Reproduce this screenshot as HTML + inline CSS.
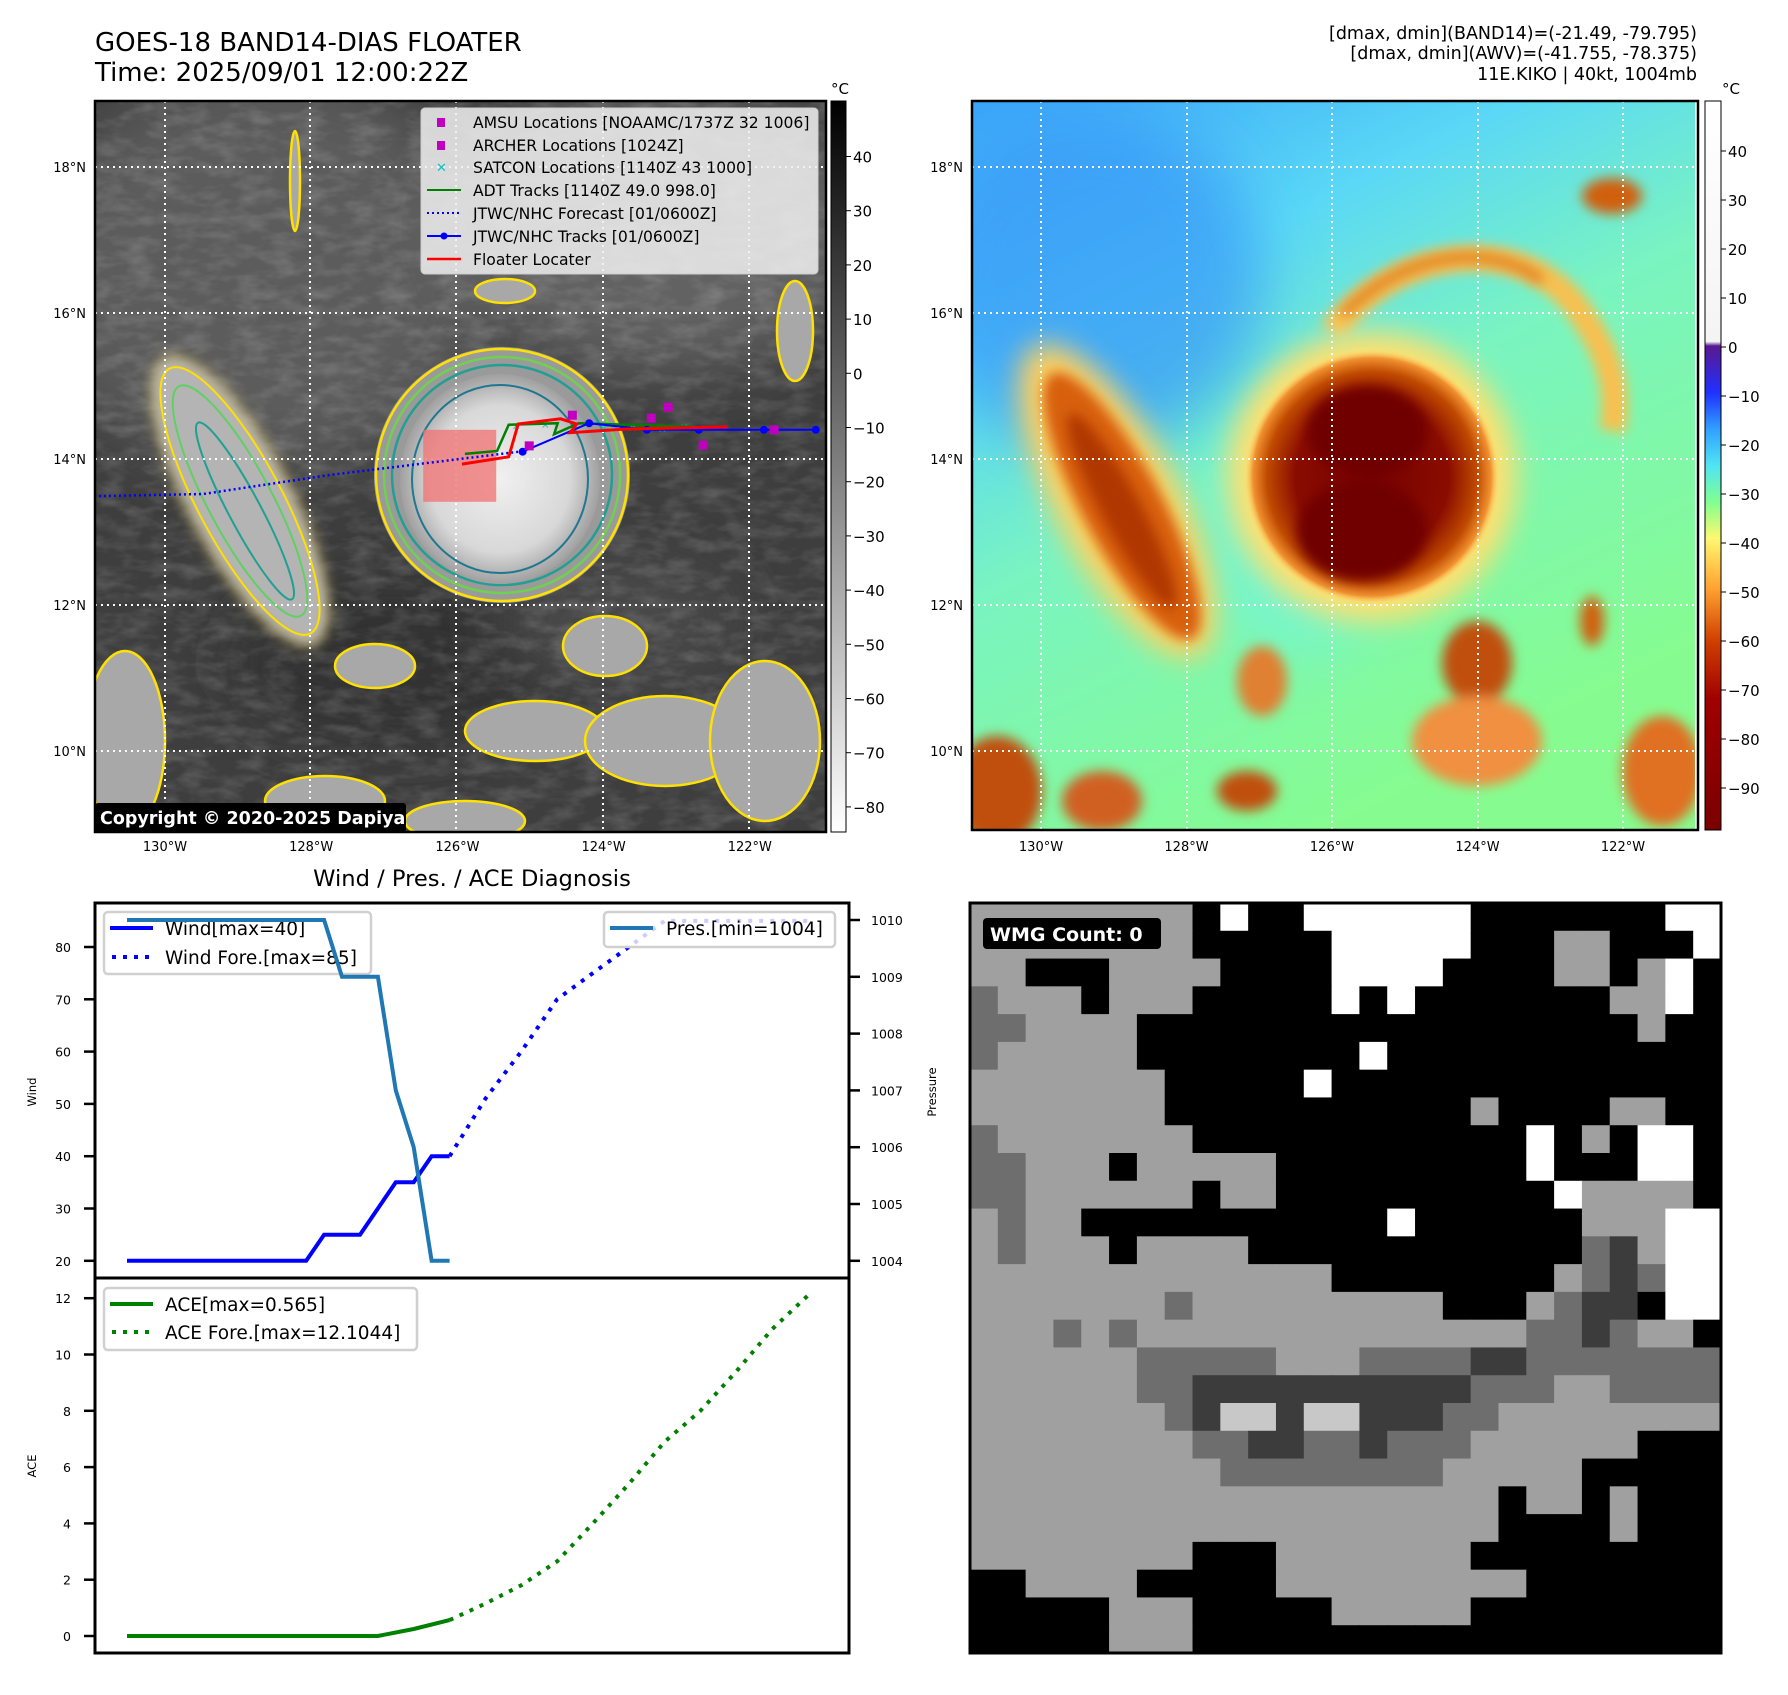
<!DOCTYPE html>
<html><head><meta charset="utf-8"><style>
html,body{margin:0;padding:0;background:#fff;}
svg text{font-family:"DejaVu Sans","Liberation Sans",sans-serif;}
</style></head><body>
<svg id="fig" xmlns="http://www.w3.org/2000/svg" width="1788" height="1690" viewBox="0 0 1788 1690">
<defs>
<filter id="b6" x="-50%" y="-50%" width="200%" height="200%"><feGaussianBlur stdDeviation="6"/></filter>
<filter id="b14" x="-50%" y="-50%" width="200%" height="200%"><feGaussianBlur stdDeviation="14"/></filter>
<filter id="b30" x="-50%" y="-50%" width="200%" height="200%"><feGaussianBlur stdDeviation="30"/></filter>
<filter id="tex" x="0" y="0" width="100%" height="100%"><feTurbulence type="fractalNoise" baseFrequency="0.035 0.08" numOctaves="3" seed="4"/><feColorMatrix type="matrix" values="0 0 0 0 1  0 0 0 0 1  0 0 0 0 1  0 0 0 0.9 -0.35"/></filter>
<linearGradient id="cb1" x1="0" y1="0" x2="0" y2="1"><stop offset="0" stop-color="#000"/><stop offset="1" stop-color="#fff"/></linearGradient>
<linearGradient id="cb2" x1="0" y1="0" x2="0" y2="1">
<stop offset="0" stop-color="#ffffff"/><stop offset="0.33" stop-color="#f4f4f4"/><stop offset="0.336" stop-color="#5a1890"/>
<stop offset="0.40" stop-color="#2030ff"/><stop offset="0.45" stop-color="#30a0ff"/><stop offset="0.50" stop-color="#50e4f4"/>
<stop offset="0.55" stop-color="#80ff90"/><stop offset="0.60" stop-color="#fff870"/><stop offset="0.67" stop-color="#ffa030"/>
<stop offset="0.74" stop-color="#d04000"/><stop offset="0.82" stop-color="#a00000"/><stop offset="1" stop-color="#7a0000"/></linearGradient>
<linearGradient id="m2bg" x1="0" y1="0" x2="0.5" y2="1">
<stop offset="0" stop-color="#3aa4f8"/><stop offset="0.3" stop-color="#5ad8f6"/><stop offset="0.55" stop-color="#7af4c0"/><stop offset="1" stop-color="#86fc90"/></linearGradient>
<radialGradient id="storm1"><stop offset="0" stop-color="#f0f0f0"/><stop offset="0.7" stop-color="#d8d8d8"/><stop offset="1" stop-color="#a0a0a0"/></radialGradient>
<radialGradient id="storm2"><stop offset="0" stop-color="#780000"/><stop offset="0.6" stop-color="#8a0c00"/><stop offset="0.82" stop-color="#c04a00"/><stop offset="0.93" stop-color="#f09030"/><stop offset="1" stop-color="#ffe070" stop-opacity="0"/></radialGradient>
<clipPath id="c1"><rect x="0" y="0" width="731" height="731"/></clipPath>
<clipPath id="c2"><rect x="0" y="0" width="723" height="729"/></clipPath>
</defs>

<text x="95" y="51" font-size="26">GOES-18 BAND14-DIAS FLOATER</text>
<text x="95" y="81" font-size="26">Time: 2025/09/01 12:00:22Z</text>
<g font-size="17.5" text-anchor="end">
<text x="1697" y="39">[dmax, dmin](BAND14)=(-21.49, -79.795)</text>
<text x="1697" y="59">[dmax, dmin](AWV)=(-41.755, -78.375)</text>
<text x="1697" y="80">11E.KIKO | 40kt, 1004mb</text>
</g>

<!-- MAP 1 -->
<g transform="translate(95,101)">
<g clip-path="url(#c1)">
<rect width="731" height="731" fill="#3e3e3e"/>
<ellipse cx="170" cy="170" rx="230" ry="200" fill="#5c5c5c" filter="url(#b30)"/>
<ellipse cx="560" cy="130" rx="220" ry="140" fill="#626262" filter="url(#b30)"/>
<ellipse cx="300" cy="560" rx="160" ry="80" fill="#333" filter="url(#b30)"/>
<ellipse cx="520" cy="520" rx="120" ry="60" fill="#4a4a4a" filter="url(#b30)"/>
<rect width="731" height="731" filter="url(#tex)" opacity="0.35"/>
<ellipse cx="145" cy="400" rx="50" ry="160" transform="rotate(-28 145 400)" fill="#b4b4b4" stroke="#ffe000" stroke-width="2.5" filter="url(#b6)"/>
<ellipse cx="145" cy="400" rx="42" ry="150" transform="rotate(-28 145 400)" fill="none" stroke="#ffe000" stroke-width="2"/>
<ellipse cx="145" cy="400" rx="32" ry="130" transform="rotate(-28 145 400)" fill="none" stroke="#60d060" stroke-width="2"/>
<ellipse cx="150" cy="410" rx="16" ry="100" transform="rotate(-28 150 410)" fill="none" stroke="#20a090" stroke-width="2"/>
<circle cx="407" cy="374" r="128" fill="#9a9a9a"/>
<circle cx="407" cy="374" r="126" fill="none" stroke="#ffe000" stroke-width="2.5"/>
<circle cx="407" cy="374" r="118" fill="none" stroke="#70d050" stroke-width="2.5"/>
<circle cx="407" cy="374" r="110" fill="none" stroke="#20a090" stroke-width="2.5"/>
<ellipse cx="405" cy="378" rx="100" ry="105" fill="url(#storm1)"/>
<ellipse cx="405" cy="378" rx="88" ry="94" fill="none" stroke="#207890" stroke-width="2"/>
<g fill="#a8a8a8" stroke="#ffe000" stroke-width="2.5">
<ellipse cx="510" cy="545" rx="42" ry="30"/>
<ellipse cx="440" cy="630" rx="70" ry="30"/>
<ellipse cx="570" cy="640" rx="80" ry="45"/>
<ellipse cx="670" cy="640" rx="55" ry="80"/>
<ellipse cx="30" cy="640" rx="40" ry="90"/>
<ellipse cx="280" cy="565" rx="40" ry="22"/>
<ellipse cx="230" cy="700" rx="60" ry="25"/>
<ellipse cx="370" cy="720" rx="60" ry="20"/>
<ellipse cx="700" cy="230" rx="18" ry="50"/>
<ellipse cx="200" cy="80" rx="5" ry="50"/>
<ellipse cx="410" cy="190" rx="30" ry="12"/>
</g>
<g stroke="#fff" stroke-width="2" stroke-dasharray="2,4">
<line x1="70" y1="0" x2="70" y2="731"/><line x1="215" y1="0" x2="215" y2="731"/><line x1="361" y1="0" x2="361" y2="731"/><line x1="508" y1="0" x2="508" y2="731"/><line x1="654" y1="0" x2="654" y2="731"/>
<line x1="0" y1="66" x2="731" y2="66"/><line x1="0" y1="212" x2="731" y2="212"/><line x1="0" y1="358" x2="731" y2="358"/><line x1="0" y1="504" x2="731" y2="504"/><line x1="0" y1="650" x2="731" y2="650"/>
</g>
<g id="tracks"></g>
<rect x="0" y="702" width="311" height="29" rx="3" fill="#000"/>
<text x="5" y="723" font-size="17.5" font-weight="bold" fill="#fff">Copyright © 2020-2025 Dapiya</text>
</g>
<rect x="0" y="0" width="731" height="731" fill="none" stroke="#000" stroke-width="2.5"/>
<g>
<rect x="326" y="7" width="397" height="166" rx="4" fill="#f0f0f0" fill-opacity="0.85" stroke="#ccc"/>
<g font-size="15.6">
<rect x="342" y="17" width="8" height="9" fill="#c000c0"/><text x="378" y="27">AMSU Locations [NOAAMC/1737Z 32 1006]</text>
<rect x="342" y="40" width="8" height="9" fill="#c000c0"/><text x="378" y="50">ARCHER Locations [1024Z]</text>
<text x="341" y="71" fill="#10c0c0" font-size="13" font-weight="bold">✕</text><text x="378" y="72">SATCON Locations [1140Z 43 1000]</text>
<line x1="332" y1="89" x2="366" y2="89" stroke="#008000" stroke-width="2"/><text x="378" y="95">ADT Tracks [1140Z 49.0 998.0]</text>
<line x1="332" y1="112" x2="366" y2="112" stroke="#0000ff" stroke-width="2" stroke-dasharray="2,3"/><text x="378" y="118">JTWC/NHC Forecast [01/0600Z]</text>
<line x1="332" y1="135" x2="366" y2="135" stroke="#0000ff" stroke-width="2"/><circle cx="349" cy="135" r="3.5" fill="#0000ff"/><text x="378" y="141">JTWC/NHC Tracks [01/0600Z]</text>
<line x1="332" y1="158" x2="366" y2="158" stroke="#ff0000" stroke-width="2.5"/><text x="378" y="164">Floater Locater</text>
</g></g>
</g>
<g>
<rect x="831" y="101" width="15" height="731" fill="url(#cb1)" stroke="#000" stroke-width="1"/>
<text x="840" y="94" font-size="15" text-anchor="middle">°C</text>
<g id="cb1ticks" font-size="15"></g>
</g>

<!-- MAP 2 -->
<g transform="translate(972,101)">
<g clip-path="url(#c2)">
<rect width="726" height="729" fill="url(#m2bg)"/>
<ellipse cx="120" cy="180" rx="170" ry="170" fill="#3898f8" filter="url(#b30)" opacity="0.7"/>
<ellipse cx="330" cy="430" rx="90" ry="120" fill="#70f4e8" filter="url(#b30)" opacity="0.6"/>
<path d="M360,230 C420,150 540,130 600,200 C630,240 650,280 640,330" fill="none" stroke="#f8c050" stroke-width="26" filter="url(#b6)"/>
<path d="M370,215 C430,150 520,140 570,180" fill="none" stroke="#e08020" stroke-width="10" filter="url(#b6)"/>
<ellipse cx="145" cy="400" rx="62" ry="175" transform="rotate(-28 145 400)" fill="#ffd060" filter="url(#b14)"/>
<ellipse cx="150" cy="405" rx="40" ry="150" transform="rotate(-28 150 405)" fill="#d86010" filter="url(#b6)"/>
<ellipse cx="150" cy="410" rx="20" ry="110" transform="rotate(-28 150 410)" fill="#b03800" filter="url(#b6)"/>
<circle cx="400" cy="376" r="145" fill="#ffe070" filter="url(#b14)"/>
<circle cx="400" cy="376" r="128" fill="url(#storm2)"/>
<ellipse cx="395" cy="330" rx="60" ry="45" fill="#700000" filter="url(#b6)"/>
<ellipse cx="390" cy="430" rx="65" ry="50" fill="#700000" filter="url(#b6)"/>
<g filter="url(#b6)">
<ellipse cx="505" cy="562" rx="35" ry="42" fill="#c05010"/>
<ellipse cx="505" cy="640" rx="65" ry="45" fill="#f09040"/>
<ellipse cx="25" cy="690" rx="45" ry="55" fill="#c05010"/>
<ellipse cx="130" cy="700" rx="40" ry="30" fill="#d06020"/>
<ellipse cx="275" cy="690" rx="30" ry="20" fill="#c05010"/>
<ellipse cx="690" cy="670" rx="40" ry="55" fill="#e07020"/>
<ellipse cx="640" cy="95" rx="30" ry="18" fill="#d06010"/>
<ellipse cx="290" cy="580" rx="25" ry="35" fill="#e08030"/>
<ellipse cx="620" cy="520" rx="12" ry="25" fill="#d06010"/>
</g>
<g stroke="#fff" stroke-width="2" stroke-dasharray="2,4">
<line x1="69" y1="0" x2="69" y2="729"/><line x1="215" y1="0" x2="215" y2="729"/><line x1="360" y1="0" x2="360" y2="729"/><line x1="506" y1="0" x2="506" y2="729"/><line x1="651" y1="0" x2="651" y2="729"/>
<line x1="0" y1="66" x2="726" y2="66"/><line x1="0" y1="212" x2="726" y2="212"/><line x1="0" y1="358" x2="726" y2="358"/><line x1="0" y1="504" x2="726" y2="504"/><line x1="0" y1="650" x2="726" y2="650"/>
</g>
</g>
<rect x="0" y="0" width="726" height="729" fill="none" stroke="#000" stroke-width="2.5"/>
</g>
<g>
<rect x="1705" y="101" width="16" height="729" fill="url(#cb2)" stroke="#000" stroke-width="1"/>
<text x="1731" y="94" font-size="15" text-anchor="middle">°C</text>
<g id="cb2ticks" font-size="15"></g>
</g>
<g id="maplabels" font-size="13"></g>

<text x="472" y="886" font-size="22.6" text-anchor="middle">Wind / Pres. / ACE Diagnosis</text>
<g id="chart"></g>

<g id="wmg"></g>
</svg>
<script>
const NS='http://www.w3.org/2000/svg';
function mk(tag,attrs,parent){const e=document.createElementNS(NS,tag);for(const k in attrs)e.setAttribute(k,attrs[k]);parent.appendChild(e);return e;}

const windObsIdx=[0,1,2,3,4,5,6,7,8,9,10,11,12,13,14,15,16,17,18];
const windObs=[20,20,20,20,20,20,20,20,20,20,20,25,25,25,30,35,35,40,40];
const presObs=[1010,1010,1010,1010,1010,1010,1010,1010,1010,1010,1010,1010,1009,1009,1009,1007,1006,1004,1004];
const windForeIdx=[18,20,22,24,26,28,30,32,34,36,38];
const windFore=[40,51,60,70,75,80,85,85,85,85,85];
const aceObsIdx=[0,14,16,18];
const aceObs=[0,0,0.25,0.565];
const aceForeIdx=[18,20,22,24,26,28,30,32,34,36,38];
const aceFore=[0.565,1.15,1.8,2.65,4.0,5.4,6.9,8.0,9.4,10.9,12.1];
const windTicks=[20,30,40,50,60,70,80];
const presTicks=[1004,1005,1006,1007,1008,1009,1010];
const aceTicks=[0,2,4,6,8,10,12];
const cb1Ticks=[40,30,20,10,0,-10,-20,-30,-40,-50,-60,-70,-80];
const cb2Ticks=[40,30,20,10,0,-10,-20,-30,-40,-50,-60,-70,-80,-90];
const lonTicks=[-130,-128,-126,-124,-122];
const latTicks=[18,16,14,12,10];

const X=i=>127+i*17.92;
const YW=v=>947+(80-v)*5.23;
const YP=p=>920+(1010-p)*56.8;
const YA=v=>1636-v*28.15;

const ch=document.getElementById('chart');
let r=mk('rect',{x:95,y:903,width:754,height:375,fill:'none',stroke:'#000','stroke-width':3},ch);


r=mk('rect',{x:95,y:1278,width:754,height:375,fill:'none',stroke:'#000','stroke-width':3},ch);



windTicks.forEach(v=>{const y=YW(v);mk('line',{x1:84,y1:y,x2:95,y2:y,stroke:'#000','stroke-width':2.5},ch);
 const t=mk('text',{x:71,y:y+5,'font-size':12.5,'text-anchor':'end'},ch);t.textContent=v;
 
 });
presTicks.forEach(v=>{const y=YP(v);mk('line',{x1:849,y1:y,x2:860,y2:y,stroke:'#000','stroke-width':2.5},ch);
 const t=mk('text',{x:871,y:y+5,'font-size':12.5},ch);t.textContent=v;
 
 });
aceTicks.forEach(v=>{const y=YA(v);mk('line',{x1:84,y1:y,x2:95,y2:y,stroke:'#000','stroke-width':2.5},ch);
 const t=mk('text',{x:71,y:y+5,'font-size':12.5,'text-anchor':'end'},ch);t.textContent=v;
 
 });
let t=mk('text',{x:36,y:1092,'font-size':11.5,'text-anchor':'middle',transform:'rotate(-90 36 1092)'},ch);t.textContent='Wind';


t=mk('text',{x:936,y:1092,'font-size':11.5,'text-anchor':'middle',transform:'rotate(-90 936 1092)'},ch);t.textContent='Pressure';


t=mk('text',{x:36,y:1466,'font-size':11.5,'text-anchor':'middle',transform:'rotate(-90 36 1466)'},ch);t.textContent='ACE';



function pts(idx,vals,fy){return idx.map((i,k)=>X(i).toFixed(1)+','+fy(vals[k]).toFixed(1)).join(' ');}
let p=mk('polyline',{points:pts(windObsIdx,windObs,YW),fill:'none',stroke:'#0000ff','stroke-width':4},ch);


p=mk('polyline',{points:pts(windForeIdx,windFore,YW),fill:'none',stroke:'#0000ff','stroke-width':4,'stroke-dasharray':'4,7'},ch);


let g=mk('g',{},ch);


mk('rect',{x:104,y:912,width:267,height:62,rx:4,fill:'#fff','fill-opacity':0.8,stroke:'#d0d0d0','stroke-width':2.5},g);
mk('line',{x1:110,y1:928,x2:153,y2:928,stroke:'#0000ff','stroke-width':4},g);
mk('line',{x1:112,y1:957,x2:153,y2:957,stroke:'#0000ff','stroke-width':4,'stroke-dasharray':'4,7'},g);
t=mk('text',{x:165,y:935,'font-size':18.5},g);t.textContent='Wind[max=40]';
t=mk('text',{x:165,y:964,'font-size':18.5},g);t.textContent='Wind Fore.[max=85]';
p=mk('polyline',{points:pts(windObsIdx,presObs,YP),fill:'none',stroke:'#1f77b4','stroke-width':4},ch);


g=mk('g',{},ch);


mk('rect',{x:604,y:912,width:231,height:35,rx:4,fill:'#fff','fill-opacity':0.8,stroke:'#d0d0d0','stroke-width':2.5},g);
mk('line',{x1:610,y1:928,x2:653,y2:928,stroke:'#1f77b4','stroke-width':4},g);
t=mk('text',{x:666,y:935,'font-size':18.5},g);t.textContent='Pres.[min=1004]';

p=mk('polyline',{points:pts(aceObsIdx,aceObs,YA),fill:'none',stroke:'#008000','stroke-width':4},ch);


p=mk('polyline',{points:pts(aceForeIdx,aceFore,YA),fill:'none',stroke:'#008000','stroke-width':4,'stroke-dasharray':'4,7'},ch);


g=mk('g',{},ch);


mk('rect',{x:104,y:1288,width:313,height:62,rx:4,fill:'#fff','fill-opacity':0.8,stroke:'#d0d0d0','stroke-width':2.5},g);
mk('line',{x1:110,y1:1304,x2:153,y2:1304,stroke:'#008000','stroke-width':4},g);
mk('line',{x1:112,y1:1332,x2:153,y2:1332,stroke:'#008000','stroke-width':4,'stroke-dasharray':'4,7'},g);
t=mk('text',{x:165,y:1311,'font-size':18.5},g);t.textContent='ACE[max=0.565]';
t=mk('text',{x:165,y:1339,'font-size':18.5},g);t.textContent='ACE Fore.[max=12.1044]';

const cbY1=v=>156.5+(40-v)*5.42;
const cbY2=v=>151+(40-v)*4.9;
const cg1=document.getElementById('cb1ticks');
cb1Ticks.forEach(v=>{const y=cbY1(v);mk('line',{x1:846,y1:y,x2:851,y2:y,stroke:'#000'},cg1);
 const tt=mk('text',{x:853,y:y+6},cg1);tt.textContent=v<0?'−'+(-v):v;
 
 });
const cg2=document.getElementById('cb2ticks');
cb2Ticks.forEach(v=>{const y=cbY2(v);mk('line',{x1:1721,y1:y,x2:1726,y2:y,stroke:'#000'},cg2);
 const tt=mk('text',{x:1728,y:y+6},cg2);tt.textContent=v<0?'−'+(-v):v;
 
 });

const ml=document.getElementById('maplabels');
[[95,70,146.2,-130],[972,69,145.5,-130]].forEach(([ox,x0,sp,l0])=>{
 lonTicks.forEach(l=>{const x=ox+x0+(l-l0)/2*sp;const tt=mk('text',{x:x,y:851,'text-anchor':'middle'},ml);tt.textContent=(-l)+'°W';
  
  });
 latTicks.forEach(la=>{const y=101+66+(18-la)/2*146;const tt=mk('text',{x:ox-9,y:y+5,'text-anchor':'end'},ml);tt.textContent=la+'°N';
  
  });
});

const mx=lon=>(lon+130.96)*73.1;
const my=lat=>(18-lat)*73+66;
const fcLon=[-132,-130.96,-129.48,-127.76,-125.08];
const fcLat=[13.47,13.49,13.52,13.78,14.11];
const jtLon=[-125.11,-124.20,-123.41,-122.70,-121.81,-121.10];
const jtLat=[14.10,14.49,14.40,14.40,14.40,14.40];
const adtLon=[-125.90,-125.46,-125.30,-124.63,-124.68,-124.34,-122.75];
const adtLat=[14.07,14.11,14.47,14.49,14.34,14.49,14.44];
const redLon=[-125.94,-125.30,-125.17,-124.59,-124.37,-124.46,-123.72,-122.31];
const redLat=[13.93,14.03,14.48,14.55,14.48,14.36,14.41,14.44];
const magLon=[-124.43,-123.35,-123.12,-122.64,-121.67,-125.02];
const magLat=[14.60,14.56,14.71,14.19,14.40,14.18];
const satLon=[-125.2,-124.8,-124.4,-124.0,-123.6,-123.2,-122.9];
const satLat=[14.45,14.47,14.46,14.44,14.43,14.42,14.44];
const tg=document.getElementById('tracks');
const pl=(lo,la)=>lo.map((v,k)=>mx(v).toFixed(1)+','+my(la[k]).toFixed(1)).join(' ');
let fr=mk('rect',{x:mx(-126.47),y:my(14.4),width:73,height:72,fill:'#f07070','fill-opacity':0.75},tg);


p=mk('polyline',{points:pl(fcLon,fcLat),fill:'none',stroke:'#0000ff','stroke-width':2.5,'stroke-dasharray':'2,3'},tg);


satLon.forEach((v,k)=>{const s=mk('text',{x:mx(v),y:my(satLat[k])+4,'font-size':10,fill:'#10c0c0','text-anchor':'middle'},tg);s.textContent='✕';
 
 });
p=mk('polyline',{points:pl(adtLon,adtLat),fill:'none',stroke:'#008000','stroke-width':2.5},tg);


p=mk('polyline',{points:pl(jtLon,jtLat),fill:'none',stroke:'#0000ff','stroke-width':2},tg);


jtLon.forEach((v,k)=>{const c=mk('circle',{cx:mx(v),cy:my(jtLat[k]),r:4,fill:'#0000ff'},tg);
 
 });
p=mk('polyline',{points:pl(redLon,redLat),fill:'none',stroke:'#ff0000','stroke-width':3},tg);


magLon.forEach((v,k)=>{const s=mk('rect',{x:mx(v)-4.5,y:my(magLat[k])-4.5,width:9,height:9,fill:'#c000c0'},tg);
 
 });

const wmgRows=[
"111111110400444444000000044",
"111111110000044444000110004",
"110001111000044440000110140",
"211101110000040400000001140",
"221111000000000000000000100",
"211111000000004000000000000",
"111111100000400000000000000",
"111111100000000000100001100",
"211111110000000000004010440",
"221110111110000000004000440",
"221111110110000000000411110",
"121100000000000400000011144",
"121110111100000000000023144",
"111111111111100000000123244",
"111111121111111110001233044",
"111212111111111111112232110",
"111111222221112222332222222",
"111111223333333333222112222",
"111111123553553332211111111",
"111111112233223222111111000",
"111111111222222221111100000",
"111111111111111111101101000",
"111111111111111111100001000",
"111111110001111111000000000",
"001111000001111111110000000",
"000001110000011111000000000",
"000001110000000000000000000"];
const wmgColors=['#000000','#a0a0a0','#6e6e6e','#3c3c3c','#ffffff','#c8c8c8'];
const wg=document.getElementById('wmg');
const wx0=970,wy0=903,cw=751/27,chh=750/27;
wmgRows.forEach((row,ri)=>{for(let ci=0;ci<27;ci++){
 const c=mk('rect',{x:(wx0+ci*cw).toFixed(2),y:(wy0+ri*chh).toFixed(2),width:(cw+0.6).toFixed(2),height:(chh+0.6).toFixed(2),fill:wmgColors[+row[ci]]},wg);
 
 }});
mk('rect',{x:970,y:903,width:751,height:750,fill:'none',stroke:'#000','stroke-width':3},wg);
let wb=mk('rect',{x:983,y:918,width:178,height:31,rx:4,fill:'#000'},wg);


let wt=mk('text',{x:990,y:941,'font-size':19,'font-weight':'bold',fill:'#fff'},wg);wt.textContent='WMG Count: 0';


</script>
</body></html>
